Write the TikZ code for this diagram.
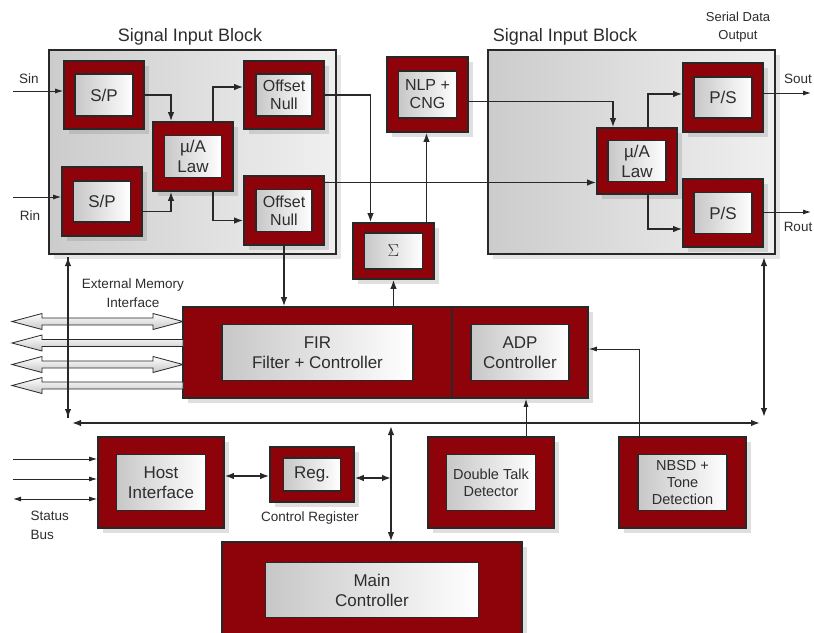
\documentclass[tikz,border=0pt]{standalone}
\usepackage{fontspec}
\setmainfont{Liberation Sans}
\usetikzlibrary{arrows.meta, shadows, calc}

\definecolor{blockred}{RGB}{142,2,10}
\definecolor{edgegray}{RGB}{40,40,40}
\definecolor{textgray}{RGB}{45,45,45}

\newcommand{\labfont}{\fontsize{17}{20}\selectfont}
\newcommand{\midfont}{\fontsize{16}{18}\selectfont}
\newcommand{\smlfont}{\fontsize{14.5}{17}\selectfont}
\newcommand{\notefont}{\fontsize{13.5}{19}\selectfont}

\begin{document}
\begin{tikzpicture}[x=1pt, y=-1pt, >={Latex[length=9pt,width=6.5pt]},
  groupbox/.style={draw=edgegray, line width=1.4pt, left color=black!20, right color=black!6,
    drop shadow={opacity=0.2, shadow xshift=5pt, shadow yshift=-5pt}, inner sep=0pt},
  outerbox/.style={draw=edgegray, line width=1.6pt, fill=blockred,
    drop shadow={opacity=0.25, shadow xshift=5pt, shadow yshift=-5pt}, inner sep=0pt},
  innerbox/.style={draw=edgegray, line width=1.6pt, left color=black!22, right color=white,
    align=center, inner sep=0pt, text=textgray},
  title/.style={font=\fontsize{18}{20}\selectfont, text=textgray},
  note/.style={font=\notefont, text=textgray, align=center},
  conn/.style={draw=edgegray, line width=1.5pt},
  thinconn/.style={draw=edgegray, line width=0.9pt, >={Latex[length=8pt,width=5pt]}},
  memarrow/.style={draw=edgegray, line width=0.8pt, top color=white, bottom color=black!22}]

\useasboundingbox (0,0) rectangle (814,632);
\fill[white] (0,0) rectangle (814,632);

% --- Group boxes ---
\node[groupbox, minimum width=287, minimum height=204] (grpL) at (192.5,152) {};
\node[groupbox, minimum width=287, minimum height=204] (grpR) at (631.5,152) {};
\node[title] (ttlL) at (190,37) {Signal Input Block};
\node[title] (ttlR) at (565,37) {Signal Input Block};
\node[note, font=\fontsize{13}{18}\selectfont] (serout) at (738,27) {Serial Data\\Output};

% --- Blocks: name/x/y/w/h/inner w/inner h/font/text ---
\foreach \nm/\cx/\cy/\w/\h/\iw/\ih/\fs/\txt in {
  spS/104/95/80/68/58/42/\labfont/{S/P},
  spR/102/201.5/80/69/57/41/\labfont/{S/P},
  lawL/193/156.5/80/69/57/42/\labfont/{µ/A\\Law},
  offS/284/95/80/68/56/42/\midfont/{Offset\\Null},
  offR/284/210.5/80/69/56/42/\midfont/{Offset\\Null},
  nlp/427.5/94.5/81/75/58/47/\midfont/{NLP +\\CNG},
  sigma/393.5/251/81/56/58/36/\labfont/{$\Sigma$},
  lawR/637/161/80/66/58/41/\labfont/{µ/A\\Law},
  psS/723/97.5/80/69/58/41/\labfont/{P/S},
  psR/723/213/80/68/58/41/\labfont/{P/S},
  fir/317.5/352.5/269/91/191/56/\labfont/{FIR\\Filter + Controller},
  adp/520/352.5/136/91/98/56/\labfont/{ADP\\Controller},
  host/161/482.5/126/91/89/56/\labfont/{Host\\Interface},
  reg/312/474.5/84/55/57/33/\labfont/{Reg.},
  dtd/491/482.5/126/91/89/56/\smlfont/{Double Talk\\Detector},
  nbsd/682.5/482.5/127/91/89/56/\smlfont/{NBSD +\\Tone\\Detection},
  main/372/590/300/96/213/55/\labfont/{Main\\Controller}}{
  \node[outerbox, minimum width=\w, minimum height=\h] (\nm) at (\cx,\cy) {};
  \node[innerbox, font=\fs, minimum width=\iw, minimum height=\ih] (\nm-in) at (\cx,\cy) {\txt};
}

% --- Serial inputs and outputs ---
\coordinate (sin) at (13,91);
\coordinate (rin) at (13,197);
\coordinate (sout) at (811,93);
\coordinate (rout) at (811,212);
\draw[thinconn, ->] (sin) -- (sin -| spS.west);
\draw[thinconn, ->] (rin) -- (rin -| spR.west);
\draw[thinconn, ->] (sout -| psS.east) -- (sout);
\draw[thinconn, ->] (rout -| psR.east) -- (rout);
\node[note] (sinlab) at (29,79) {Sin};
\node[note] (rinlab) at (30,216) {Rin};
\node[note] (soutlab) at (798,79) {Sout};
\node[note] (routlab) at (798,227) {Rout};

% --- Signal path ---
\draw[conn, ->] (spS.east) -| ([xshift=-22pt]lawL.north);
\draw[conn, ->] ([yshift=-10pt]spR.east) -| ([xshift=-22pt]lawL.south);
\draw[conn, ->] ([xshift=20pt]lawL.north) |- ([yshift=8pt]offS.west);
\draw[conn, ->] ([xshift=20pt]lawL.south) |- ([yshift=-10pt]offR.west);
\draw[conn, ->] (offS.east) -| ([xshift=-23pt]sigma.north);
\coordinate (offRo) at ([yshift=28pt]offR.east);
\draw[conn, ->] (offRo) -- (offRo -| lawR.west);
\draw[conn, ->] (offR.south) -- (offR.south |- fir.north);
\draw[conn, ->] (sigma.south |- fir.north) -- (sigma.south);
\draw[conn, ->] ([xshift=33pt]sigma.north) -- ([xshift=33pt]sigma.north |- nlp.south);
\draw[conn, ->] ([yshift=-7pt]nlp.east) -| ([xshift=-24pt]lawR.north);
\draw[conn, ->] ([xshift=11pt]lawR.north) |- ([yshift=3.5pt]psS.west);
\draw[conn, ->] ([xshift=11pt]lawR.south) |- ([yshift=-16pt]psR.west);

% --- Buses ---
\coordinate (busL) at (72,423);
\coordinate (busR) at (760,423);
\coordinate (memT) at (68,257);
\coordinate (memB) at (68,418);
\coordinate (ioT) at (764,257);
\coordinate (ioB) at (764,417);
\coordinate (ctlT) at (391,426);
\draw[conn, <->] (busL) -- (busR);
\draw[conn, <->] (memT) -- (memB);
\draw[conn, <->] (ioT) -- (ioB);
\draw[conn, <->] (ctlT) -- (ctlT |- main.north);

% --- External memory interface ---
\foreach \c in {321.5, 364.5} {
  \draw[memarrow] (12,\c) -- (42,\c-8) -- (42,\c-3.5) -- (153,\c-3.5) -- (153,\c-8)
    -- (183,\c) -- (153,\c+8) -- (153,\c+3.5) -- (42,\c+3.5) -- (42,\c+8) -- cycle;
}
\foreach \c in {343, 385.5} {
  \draw[memarrow] (12,\c) -- (42,\c-8) -- (42,\c-3.5) -- (183,\c-3.5)
    -- (183,\c+3.5) -- (42,\c+3.5) -- (42,\c+8) -- cycle;
}
\draw[conn] (memT) -- (memB);
\node[note] (extmem) at (133,293.5) {External Memory\\Interface};

% --- Host and control ---
\coordinate (hinA) at (13,459);
\coordinate (hinB) at (13,479);
\coordinate (hinC) at (13,499);
\draw[thinconn, ->] (hinA) -- (hinA -| host.west);
\draw[thinconn, ->] (hinB) -- (hinB -| host.west);
\draw[thinconn, <->] (hinC) -- (hinC -| host.west);
\node[note, align=left, anchor=west, font=\fontsize{13.5}{19}\selectfont] (stbus) at (27,525.5) {Status\\Bus};
\coordinate (regL) at ([yshift=-1.5pt]reg.west);
\coordinate (regR) at ([yshift=-3.5pt]reg.east);
\draw[conn, <->] (regL -| host.east) -- (regL);
\draw[conn, <->] (regR) -- (regR -| ctlT);
\node[note] (ctlreg) at (310,518) {Control Register};

% --- Detectors to ADP ---
\draw[thinconn, ->] ([xshift=35pt]dtd.north) -- ([xshift=35pt]dtd.north |- adp.south);
\draw[thinconn, ->] ([xshift=-43.5pt]nbsd.north) |- ([yshift=3.5pt]adp.east);

\end{tikzpicture}
\end{document}
